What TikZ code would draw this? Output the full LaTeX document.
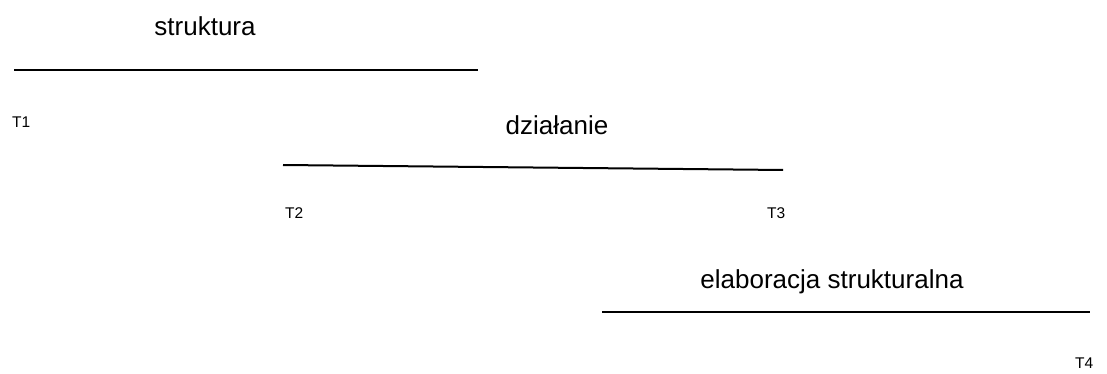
\documentclass[tikz,border=0pt]{standalone}
\usepackage{fontspec}
\setmainfont{Liberation Sans}
\begin{document}
\begin{tikzpicture}[x=1pt,y=-1pt,
  big/.style={font=\fontsize{26}{30}\selectfont,inner sep=0pt},
  small/.style={font=\fontsize{15.5}{18}\selectfont,inner sep=0pt},
  bar/.style={line width=2pt}]
\useasboundingbox (0,0) rectangle (1107,374);
\node[big,anchor=base] (s) at (205,36) {struktura};
\node[big,anchor=base] (d) at (557,135) {działanie};
\node[big,anchor=base] (e) at (832,288) {elaboracja strukturalna};
\node[small,anchor=base west] (t1) at (12,128) {T1};
\node[small,anchor=base west] (t2) at (285,218) {T2};
\node[small,anchor=base west] (t3) at (767,218) {T3};
\node[small,anchor=base west] (t4) at (1075,368) {T4};
\coordinate (a1) at (14,70);
\coordinate (b1) at (478,70);
\coordinate (a2) at (283,165);
\coordinate (b2) at (783,170);
\coordinate (a3) at (602,312);
\coordinate (b3) at (1090,312);
\draw[bar] (a1) -- (b1);
\draw[bar] (a2) -- (b2);
\draw[bar] (a3) -- (b3);
\end{tikzpicture}
\end{document}
